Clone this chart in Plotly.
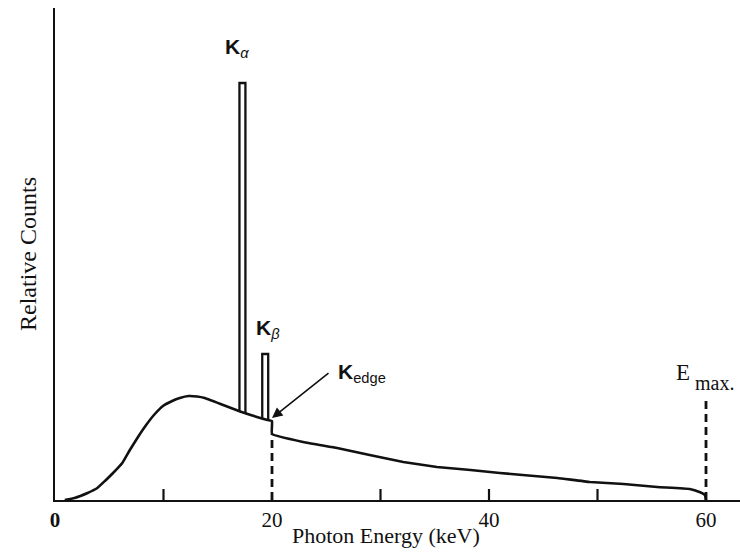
import numpy as np
import plotly.graph_objects as go

# Continuum (bremsstrahlung) spectrum, relative counts vs photon energy (keV)
cont_energy = [0.9, 1.8, 3.0, 3.9, 4.6, 5.35, 6.2, 6.9, 7.65, 8.4, 9.2, 9.95, 10.8,
               11.5, 12.3, 13.1, 13.8, 17.2, 19.6, 20.0,
               20.0, 22.9, 26.0, 29.0, 32.1, 35.2, 38.3, 41.0, 43.1, 46.3, 49.3,
               52.4, 55.5, 58.5, 59.4, 59.9, 60.0]
cont_counts = [0, 2, 7, 12, 19, 27, 37, 50, 63, 75, 86, 94, 99,
               102, 104, 103.5, 102, 88, 80, 79,
               66, 58, 52, 45, 38, 33, 30, 27, 25, 22, 18,
               16, 13, 11, 8, 5, 0]

# Characteristic lines
line_energy = [17.0, 19.1]
line_top = [417, 146]
line_width = 0.55

edge_energy = 20.0
edge_low = 66
edge_high = 80
emax_energy = 60.0
emax_height = 100

minor_ticks = [10, 30, 40, 50]
tick_vals = [0, 20, 40, 60]
tick_text = ["<b>0</b>", "20", "40", "60"]

BLACK = "#111111"
fig = go.Figure()

fig.add_trace(go.Scatter(x=cont_energy, y=cont_counts, mode="lines",
                         line=dict(color=BLACK, width=2.6, shape="spline", smoothing=0.3),
                         hoverinfo="skip", showlegend=False))

# peak bars
n_pre = cont_energy.index(edge_energy) + 1
base_curve_x = cont_energy[:n_pre]
base_curve_y = cont_counts[:n_pre]
for e, top in zip(line_energy, line_top):
    b0 = float(np.interp(e, base_curve_x, base_curve_y))
    b1 = float(np.interp(e + line_width, base_curve_x, base_curve_y))
    fig.add_trace(go.Scatter(x=[e, e, e + line_width, e + line_width],
                             y=[b0, top, top, b1], mode="lines",
                             line=dict(color=BLACK, width=2.3),
                             hoverinfo="skip", showlegend=False))

# dashed lines
fig.add_trace(go.Scatter(x=[edge_energy, edge_energy], y=[0, edge_low], mode="lines",
                         line=dict(color=BLACK, width=2.8, dash="8px,5px"),
                         hoverinfo="skip", showlegend=False))
fig.add_trace(go.Scatter(x=[emax_energy, emax_energy], y=[0, emax_height], mode="lines",
                         line=dict(color=BLACK, width=2.8, dash="8px,5px"),
                         hoverinfo="skip", showlegend=False))

# minor ticks
for t in minor_ticks:
    fig.add_trace(go.Scatter(x=[t, t], y=[0, 11], mode="lines",
                             line=dict(color=BLACK, width=2.2),
                             hoverinfo="skip", showlegend=False))

# labels
fig.add_annotation(x=line_energy[0] - 0.2, y=line_top[0] + 20, text="<b>K</b><sub><i>α</i></sub>",
                   showarrow=False, xanchor="center", yanchor="bottom",
                   font=dict(family="Liberation Sans", size=21, color=BLACK))
fig.add_annotation(x=line_energy[1] + 0.5, y=line_top[1] + 10, text="<b>K</b><sub><i>β</i></sub>",
                   showarrow=False, xanchor="center", yanchor="bottom",
                   font=dict(family="Liberation Sans", size=21, color=BLACK))
fig.add_annotation(x=edge_energy, y=edge_high + 2, ax=58, ay=-46, text="",
                   showarrow=True, arrowhead=2, arrowsize=1.3, arrowwidth=1.6,
                   arrowcolor=BLACK)
fig.add_annotation(x=edge_energy + 5.9, y=edge_high + 32, text="<b>K</b><sub>edge</sub>",
                   showarrow=False, xanchor="left", yanchor="bottom",
                   font=dict(family="Liberation Sans", size=21, color=BLACK))
fig.add_annotation(x=emax_energy - 1.3, y=emax_height + 13, text="E",
                   showarrow=False, xanchor="right", yanchor="bottom",
                   font=dict(family="Liberation Serif", size=23, color=BLACK))
fig.add_annotation(x=emax_energy - 1.2, y=emax_height + 4, text="max.",
                   showarrow=False, xanchor="left", yanchor="bottom",
                   font=dict(family="Liberation Serif", size=20, color=BLACK))

# x-axis title (placed to match the original's off-centre position)
fig.add_annotation(x=30.5, y=-0.1, xref="x", yref="paper",
                   text="Photon Energy (keV)", showarrow=False, borderpad=0,
                   xanchor="center", yanchor="bottom",
                   font=dict(family="Liberation Serif", size=22, color=BLACK))

fig.update_layout(
    width=740, height=552,
    margin=dict(l=55, r=0, t=8, b=52),
    paper_bgcolor="white", plot_bgcolor="white",
    xaxis=dict(range=[0, 685 / 10.85], showgrid=False, zeroline=False,
               showline=True, linecolor=BLACK, linewidth=2,
               tickvals=tick_vals, ticktext=tick_text, ticks="",
               tickfont=dict(family="Liberation Serif", size=21, color=BLACK)),
    yaxis=dict(range=[0, 492], showgrid=False, zeroline=False,
               showline=True, linecolor=BLACK, linewidth=2,
               showticklabels=False, ticks="",
               title=dict(text="Relative Counts", standoff=10,
                          font=dict(family="Liberation Serif", size=24, color=BLACK))),
)

fig.write_html("out.html")
